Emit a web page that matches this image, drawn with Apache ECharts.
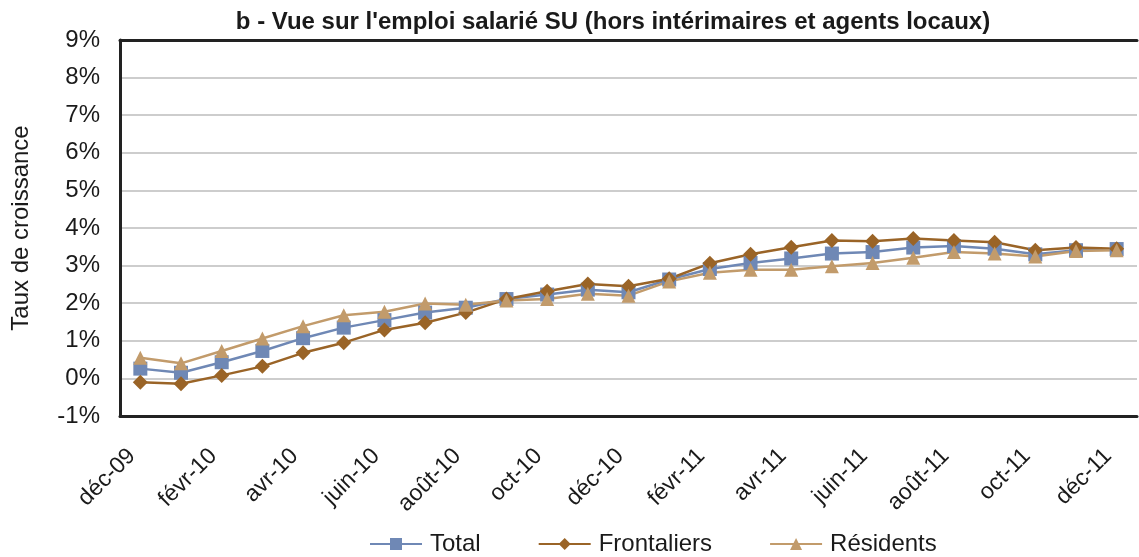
<!DOCTYPE html>
<html>
<head>
<meta charset="utf-8" />
<title>Vue sur l'emploi salarié SU</title>
<script src="https://cdn.jsdelivr.net/npm/echarts@6/dist/echarts.min.js"></script>
<style>
	html, body { margin: 0; padding: 0; background: #fff; }
	#main { width: 1139px; height: 557px; }
</style>
</head>
<body>
<div id="main"></div>
<script>
	// mois, de déc-09 à déc-11
	var mois = ['déc-09', 'janv-10', 'févr-10', 'mars-10', 'avr-10', 'mai-10', 'juin-10', 'juil-10', 'août-10',
		'sept-10', 'oct-10', 'nov-10', 'déc-10', 'janv-11', 'févr-11', 'mars-11', 'avr-11', 'mai-11',
		'juin-11', 'juil-11', 'août-11', 'sept-11', 'oct-11', 'nov-11', 'déc-11'];

	// taux de croissance en %
	var total = [0.26, 0.15, 0.43, 0.73, 1.07, 1.35, 1.55, 1.75, 1.88, 2.11, 2.23, 2.36, 2.29, 2.63,
		2.91, 3.07, 3.19, 3.32, 3.36, 3.48, 3.52, 3.45, 3.30, 3.41, 3.44];
	var frontaliers = [-0.10, -0.14, 0.08, 0.32, 0.68, 0.95, 1.29, 1.48, 1.75, 2.11, 2.32, 2.51, 2.45, 2.65,
		3.06, 3.30, 3.49, 3.67, 3.65, 3.72, 3.67, 3.62, 3.41, 3.48, 3.45];
	var residents = [0.55, 0.40, 0.73, 1.06, 1.39, 1.68, 1.77, 1.99, 1.96, 2.07, 2.11, 2.25, 2.20, 2.58,
		2.81, 2.89, 2.89, 2.98, 3.07, 3.21, 3.36, 3.32, 3.24, 3.39, 3.41];

	var police = 'Liberation Sans, Arial, sans-serif';

	var myChart = echarts.init(document.getElementById('main'));
	var option = {
		animation: false,
		title: {
			text: "b - Vue sur l'emploi salarié SU (hors intérimaires et agents locaux)",
			left: 608,
			top: 5,
			textAlign: 'center',
			textStyle: { fontFamily: police, fontSize: 24, fontWeight: 'bold', color: '#1a1a1a' }
		},
		legend: {
			bottom: -4,
			left: 364,
			itemWidth: 52,
			itemHeight: 15,
			itemGap: 57,
			textStyle: { fontFamily: police, fontSize: 24, color: '#1a1a1a', padding: [0, 0, 0, 3] },
			data: ['Total', 'Frontaliers', 'Résidents']
		},
		grid: { left: 120, right: 2, top: 40, bottom: 141, outerBoundsMode: 'none' },
		xAxis: [{
			type: 'category',
			data: mois,
			boundaryGap: true,
			axisLine: { onZero: false, lineStyle: { color: '#222', width: 3 } },
			axisTick: { show: false },
			axisLabel: {
				interval: 1,
				rotate: 45,
				margin: 28,
				padding: [0, 12, 0, 0],
				fontFamily: police,
				fontSize: 23,
				color: '#1a1a1a'
			}
		}, {
			type: 'category',
			position: 'top',
			data: mois,
			axisLine: { onZero: false, lineStyle: { color: '#222', width: 3 } },
			axisTick: { show: false },
			axisLabel: { show: false }
		}],
		yAxis: {
			type: 'value',
			min: -1,
			max: 9,
			interval: 1,
			name: 'Taux de croissance',
			nameLocation: 'middle',
			nameGap: 87,
			nameTextStyle: { fontFamily: police, fontSize: 24, color: '#1a1a1a' },
			axisLine: { show: true, lineStyle: { color: '#222', width: 3 } },
			axisTick: { show: false },
			axisLabel: {
				margin: 20,
				formatter: '{value}%',
				fontFamily: police,
				fontSize: 24,
				color: '#1a1a1a'
			},
			splitLine: { lineStyle: { color: '#bdbdbd', width: 1.5 } }
		},
		series: [{
			name: 'Total',
			type: 'line',
			data: total,
			symbol: 'rect',
			symbolSize: 14,
			itemStyle: { color: '#6f88b5' },
			lineStyle: { color: '#6f88b5', width: 2.5 }
		}, {
			name: 'Frontaliers',
			type: 'line',
			data: frontaliers,
			symbol: 'diamond',
			symbolSize: 15,
			itemStyle: { color: '#9a6427' },
			lineStyle: { color: '#9a6427', width: 2.5 }
		}, {
			name: 'Résidents',
			type: 'line',
			data: residents,
			symbol: 'triangle',
			symbolSize: 14,
			itemStyle: { color: '#c29b6b' },
			lineStyle: { color: '#c29b6b', width: 2.5 }
		}]
	};
	myChart.setOption(option);
</script>
</body>
</html>
